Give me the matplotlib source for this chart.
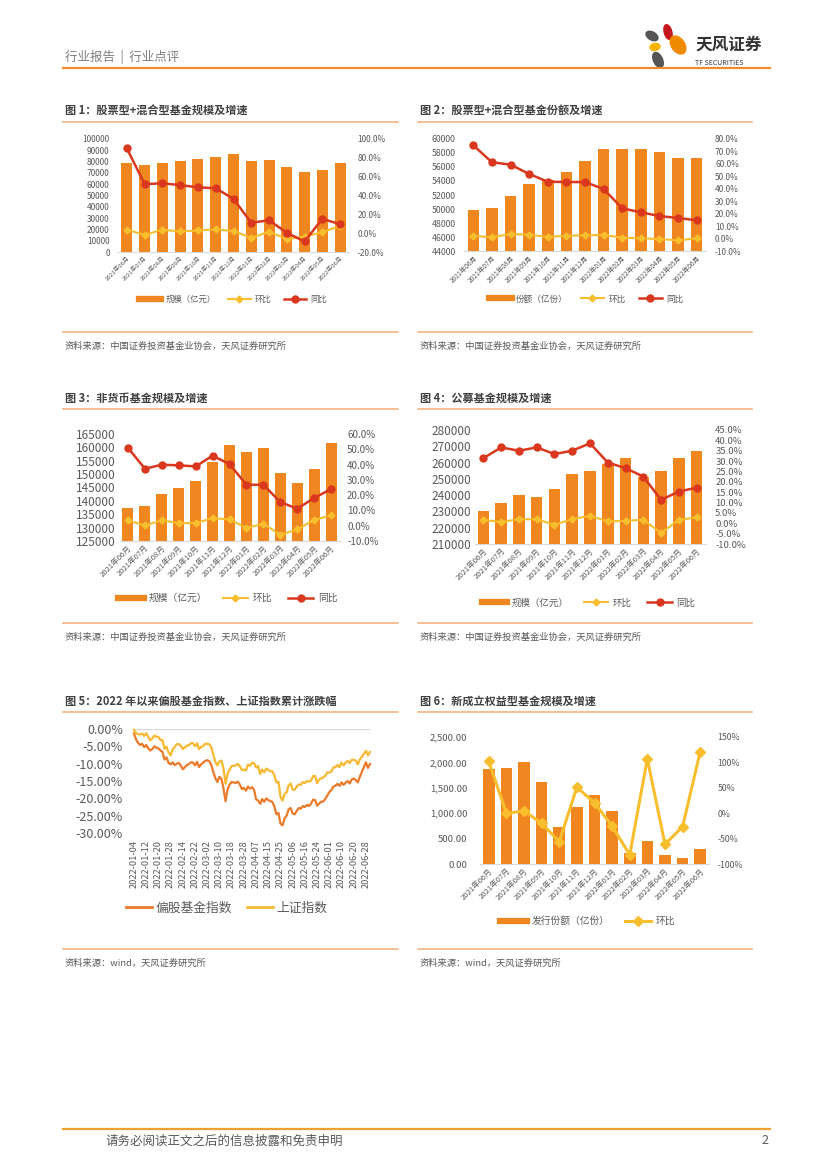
import numpy as np
import pandas as pd
import matplotlib
matplotlib.use('Agg')
from matplotlib import pyplot as plt
from matplotlib.lines import Line2D
from matplotlib.patches import Ellipse
from matplotlib.ticker import FuncFormatter

plt.rcParams['font.family'] = ['Noto Sans CJK SC', 'DejaVu Sans']

W, H = 827, 1169
BAR = '#F0861F'
MOM = '#F9BE2E'
YOY = '#D9381E'
GRAY = '#595959'
TITLE = '#404040'
LINE_ORANGE = '#F2AE78'

months = ['2021年06月', '2021年07月', '2021年08月', '2021年09月', '2021年10月', '2021年11月',
          '2021年12月', '2022年01月', '2022年02月', '2022年03月', '2022年04月', '2022年05月', '2022年06月']

# fig 1: stock + hybrid fund size (100m yuan), mom %, yoy %
size1 = [78800, 76800, 79100, 80300, 82000, 84400, 86500, 80900, 81500, 75300, 70900, 72900, 78800]
mom1 = [3.6, -1.7, 3.6, 1.8, 2.9, 4.0, 2.2, -4.9, 1.5, -6.3, -3.8, 1.1, 7.8]
yoy1 = [90.0, 52.0, 53.0, 51.0, 48.7, 47.7, 36.4, 11.0, 13.8, 0.4, -8.8, 15.2, 9.5]

# fig 2: stock + hybrid fund shares (100m)
share2 = [49860, 50100, 51860, 53570, 54100, 55330, 56810, 58520, 58520, 58520, 58190, 57290, 57240]
mom2 = [2.3, 1.0, 3.7, 3.1, 1.3, 2.3, 2.6, 2.9, 0.7, 0.2, -0.4, -1.4, 0.2]
yoy2 = [74.9, 61.3, 59.4, 51.9, 45.7, 45.4, 45.4, 39.8, 24.3, 21.1, 18.1, 16.5, 14.7]

# fig 3: non-money fund size
size3 = [137460, 138200, 142700, 144700, 147300, 154500, 160800, 158300, 159900, 150500, 146800, 152000, 161800]
mom3 = [3.5, 0.2, 3.5, 1.7, 1.7, 5.0, 4.1, -1.5, 1.3, -5.9, -2.4, 3.7, 6.8]
yoy3 = [51.0, 37.3, 39.9, 39.5, 38.8, 45.8, 40.3, 26.8, 26.8, 15.5, 11.1, 18.1, 24.0]

# fig 4: public fund size
size4 = [230000, 235100, 239800, 238600, 243700, 252900, 255100, 259000, 263100, 251000, 254900, 262500, 267300]
mom4 = [1.7, 0.6, 2.0, 1.9, -0.7, 2.0, 3.6, 0.9, 1.2, 1.7, -4.7, 1.7, 2.8]
yoy4 = [31.4, 36.6, 35.0, 36.6, 33.4, 35.0, 38.6, 29.3, 26.6, 22.5, 11.3, 15.3, 17.2]

# fig 6: newly issued equity fund shares
issue6 = [1872, 1885, 2003, 1623, 733, 1113, 1361, 1034, 209, 445, 170, 124, 288]
mom6 = [102, -0.5, 4.7, -20, -56, 51, 20.4, -25.4, -82, 107, -61, -26.7, 121]

# fig 5: cumulative change since 2022 (%)
holidays = ['2022-01-31', '2022-02-01', '2022-02-02', '2022-02-03', '2022-02-04',
            '2022-04-04', '2022-04-05', '2022-05-02', '2022-05-03', '2022-05-04', '2022-06-03']
dates = [d.strftime('%Y-%m-%d') for d in pd.bdate_range('2022-01-04', '2022-06-30')
         if d.strftime('%Y-%m-%d') not in holidays]
fund_idx = [-1.3, -3.0, -4.0, -4.6, -4.3, -5.2, -4.6, -5.6, -6.2, -5.8, -5.0, -5.4, -5.6, -6.2, -6.6, -8.8, -8.2, -9.8, -10.2,
            -9.6, -10.4, -10.0, -9.8, -10.6, -11.6, -11.0, -10.4, -10.1, -9.6, -9.7, -10.5, -9.5, -11.0, -10.2, -9.7,
            -9.2, -9.0, -9.3, -10.4, -12.4, -14.2, -15.3, -13.8, -14.4, -17.2, -20.8, -17.4, -16.0, -15.3, -15.4,
            -15.6, -15.2, -16.0, -17.3, -17.0, -17.8, -16.6, -17.2,
            -16.8, -17.5, -20.3, -20.6, -21.6, -20.2, -21.0, -20.0, -20.5, -20.8, -21.0, -22.4, -24.6, -24.2,
            -27.3, -27.8, -25.8, -25.0, -23.2,
            -22.8, -24.4, -24.6, -23.6, -22.8, -23.0, -22.2, -22.5, -21.9, -22.2, -21.6, -20.4, -20.5, -22.1,
            -21.5, -21.0, -20.9, -20.2, -19.2,
            -18.2, -17.6, -16.6, -16.4, -15.8, -16.4, -15.4, -16.1, -15.5, -15.0, -15.7, -14.6, -14.3, -14.7,
            -15.4, -13.8, -12.4, -11.0, -9.6, -11.2, -10.1]
sh_idx = [-0.2, -1.2, -1.5, -1.6, -1.3, -2.0, -1.2, -2.3, -3.3, -2.7, -1.9, -2.2, -2.3, -3.2, -3.2, -5.7, -5.1, -6.8, -7.6,
          -5.8, -5.2, -4.4, -4.3, -4.9, -5.8, -5.3, -4.8, -4.7, -4.1, -4.1, -5.0, -4.1, -5.8, -5.2, -4.9,
          -4.2, -4.3, -4.4, -5.3, -7.4, -9.5, -10.5, -9.4, -9.1, -11.5, -15.8, -12.9, -11.7, -10.7, -10.6,
          -10.5, -10.1, -10.7, -11.8, -11.7, -12.0, -10.3, -10.6,
          -9.8, -9.8, -11.1, -10.7, -13.0, -11.7, -12.5, -11.4, -11.8, -12.2, -12.2, -13.4, -15.4, -15.2,
          -19.5, -20.7, -18.7, -18.3, -16.3,
          -15.7, -17.5, -17.5, -16.6, -16.0, -16.1, -15.3, -15.6, -15.0, -15.2, -14.9, -13.6, -13.5, -15.6,
          -14.6, -14.2, -14.0, -13.5, -12.5,
          -12.6, -12.2, -11.1, -11.0, -10.4, -11.0, -9.7, -10.5, -9.7, -9.2, -9.8, -8.9, -8.9, -9.1,
          -10.2, -8.8, -8.0, -7.2, -6.3, -7.6, -6.6]

fig = plt.figure(figsize=(W / 100, H / 100), dpi=100)


def px_axes(l, t, r, b):
    return fig.add_axes([l / W, 1 - b / H, (r - l) / W, (b - t) / H])


def ftext(x, y, s, **kw):
    fig.text(x / W, 1 - y / H, s, **kw)


def hline(x0, x1, y, color, lw):
    fig.add_artist(Line2D([x0 / W, x1 / W], [1 - y / H, 1 - y / H], color=color, lw=lw))


def panel_frame(x0, x1, ty, title, sy, source):
    ftext(x0 + 2, ty, title, fontsize=8, fontweight='bold', color=TITLE, va='center')
    hline(x0, x1, ty + 11, LINE_ORANGE, 1.1)
    hline(x0, x1, sy - 14, LINE_ORANGE, 1.1)
    ftext(x0 + 2, sy, source, fontsize=6.7, color=GRAY, va='center')


def combo_chart(box, bars, mom, yoy, lim, step, lim2, step2, lfmt, rfmt,
                lfs, rfs, xfs, lpad, rpad, width, mom_style):
    l, t, r, b = box
    ax = px_axes(l, t, r, b)
    x = np.arange(len(months))
    ax.bar(x, bars, width=width, color=BAR, zorder=2)
    ax.set_xlim(-0.5, len(months) - 0.5)
    ax.set_ylim(lim)
    ax.set_yticks(np.arange(lim[0], lim[1] + step / 2, step))
    ax.yaxis.set_major_formatter(FuncFormatter(lambda v, p: lfmt.format(v)))
    ax.set_xticks(x)
    ax.set_xticklabels(months, rotation=45, ha='right', rotation_mode='anchor', fontsize=xfs, color=GRAY)
    ax.tick_params(axis='both', length=0, colors=GRAY)
    ax.tick_params(axis='y', labelsize=lfs, pad=lpad)
    ax.tick_params(axis='x', pad=2)
    for s in ['top', 'left', 'right']:
        ax.spines[s].set_visible(False)
    ax.spines['bottom'].set_color('#D9D9D9')
    ax2 = ax.twinx()
    ax2.set_ylim(lim2)
    ax2.set_yticks(np.arange(lim2[0], lim2[1] + step2 / 2, step2))
    ax2.yaxis.set_major_formatter(FuncFormatter(lambda v, p: rfmt.format(v)))
    ax2.tick_params(axis='y', length=0, colors=GRAY, labelsize=rfs, pad=rpad)
    ax2.plot(x, mom, color=MOM, **mom_style)
    if yoy is not None:
        ax2.plot(x, yoy, color=YOY, lw=1.8, marker='o', ms=5, zorder=4)
    for s in ax2.spines.values():
        s.set_visible(False)
    return ax


def combo_legend(ax, cx, cy, labels, fs, hl, cs, mom_style, with_yoy=True):
    handles = [Line2D([], [], color=BAR, lw=4.5),
               Line2D([], [], color=MOM, **mom_style)]
    if with_yoy:
        handles.append(Line2D([], [], color=YOY, lw=1.8, marker='o', ms=5))
    ax.legend(handles, labels, loc='center', bbox_to_anchor=(cx / W, 1 - cy / H),
              bbox_transform=fig.transFigure, ncol=len(handles), frameon=False, fontsize=fs,
              handlelength=hl, handletextpad=0.5, columnspacing=cs, labelcolor=GRAY)


small_mom = dict(lw=1.5, marker='D', ms=3.5, zorder=3)

# header
ftext(65, 57, '行业报告  |  行业点评', fontsize=9, color='#7F7F7F', va='center')
hline(63, 770, 68, '#F08A2A', 1.6)
logo = px_axes(638, 20, 688, 70)
logo.set_xlim(638, 688)
logo.set_ylim(70, 20)
logo.axis('off')
logo.add_patch(Ellipse((652, 36), 13, 8, angle=30, color='#555555'))
logo.add_patch(Ellipse((668, 32), 7.5, 15, angle=-15, color='#C4161C'))
logo.add_patch(Ellipse((678, 45), 13, 20, angle=-35, color='#F08A00'))
logo.add_patch(Ellipse((655, 47), 10, 7, angle=-10, color='#F7B500'))
logo.add_patch(Ellipse((658, 60), 9, 16, angle=-25, color='#555555'))
ftext(695, 45, '天风证券', fontsize=12, fontweight='bold', color='#333333', va='center')
ftext(695, 63, 'TF SECURITIES', fontsize=5, color='#333333', va='center')

# footer
hline(63, 770, 1129, '#F0A030', 1.6)
ftext(105, 1141, '请务必阅读正文之后的信息披露和免责申明', fontsize=9, color=GRAY, va='center')
ftext(768, 1141, '2', fontsize=9, color=GRAY, va='center', ha='right')

src_assoc = '资料来源：中国证券投资基金业协会，天风证券研究所'
src_wind = '资料来源：wind，天风证券研究所'

# chart 1
panel_frame(63, 398, 111, '图 1：股票型+混合型基金规模及增速', 346, src_assoc)
ax1 = combo_chart((118, 139, 349, 252), size1, mom1, yoy1, (0, 100000), 10000, (-20, 100), 20,
                  '{:.0f}', '{:.1f}%', 6, 6, 4.3, 6, 6, 0.62, small_mom)
combo_legend(ax1, 233, 299, ['规模（亿元）', '环比', '同比'], 6, 2.7, 1.5, small_mom)

# chart 2
panel_frame(418, 752, 111, '图 2：股票型+混合型基金份额及增速', 346, src_assoc)
ax2 = combo_chart((464, 139, 706, 251), share2, mom2, yoy2, (44000, 60000), 2000, (-10, 80), 10,
                  '{:.0f}', '{:.1f}%', 6.3, 6, 4.8, 6, 6.5, 0.62, small_mom)
combo_legend(ax2, 586, 299, ['份额（亿份）', '环比', '同比'], 6.2, 2.7, 1.5, small_mom)

# chart 3
panel_frame(63, 398, 398, '图 3：非货币基金规模及增速', 637, src_assoc)
ax3 = combo_chart((119.5, 434, 339.5, 541), size3, mom3, yoy3, (125000, 165000), 5000, (-10, 60), 10,
                  '{:.0f}', '{:.1f}%', 8.5, 7, 5.5, 2.5, 5.5, 0.65, small_mom)
combo_legend(ax3, 228, 598, ['规模（亿元）', '环比', '同比'], 7, 2.6, 1.6, small_mom)

# chart 4
panel_frame(418, 752, 398, '图 4：公募基金规模及增速', 637, src_assoc)
ax4 = combo_chart((474.5, 430, 705.5, 544), size4, mom4, yoy4, (210000, 280000), 10000, (-10, 45), 5,
                  '{:.0f}', '{:.1f}%', 8.5, 6.8, 5.5, 2.5, 7, 0.65, small_mom)
combo_legend(ax4, 589, 603, ['规模（亿元）', '环比', '同比'], 6.8, 2.6, 1.6, small_mom)

# chart 5
panel_frame(63, 398, 701, '图 5：2022 年以来偏股基金指数、上证指数累计涨跌幅', 963, src_wind)
ax5 = px_axes(134, 729, 370, 833)
xd = np.arange(len(dates))
ax5.plot(xd, fund_idx, color='#EB7A2A', lw=1.6, clip_on=False)
ax5.plot(xd, sh_idx, color='#F8B932', lw=1.6, clip_on=False)
ax5.axhline(0, color='#D9D9D9', lw=1, zorder=0)
ax5.set_xlim(0, len(dates) - 1)
ax5.set_ylim(-30, 0)
ax5.set_yticks(np.arange(-30, 0.1, 5))
ax5.yaxis.set_major_formatter(FuncFormatter(lambda v, p: '{:.2f}%'.format(v)))
ax5.set_xticks(xd[::6])
ax5.set_xticklabels(dates[::6], rotation=90, fontsize=6.7, color=GRAY)
ax5.tick_params(axis='both', length=0, colors=GRAY)
ax5.tick_params(axis='y', labelsize=9, pad=8)
ax5.tick_params(axis='x', pad=5)
for s in ax5.spines.values():
    s.set_visible(False)
ax5.legend([Line2D([], [], color='#EB7A2A', lw=2), Line2D([], [], color='#F8B932', lw=2)],
           ['偏股基金指数', '上证指数'], loc='center', bbox_to_anchor=(227 / W, 1 - 908 / H),
           bbox_transform=fig.transFigure, ncol=2, frameon=False, fontsize=9.2,
           handlelength=2.0, handletextpad=0.3, columnspacing=1.2, labelcolor=GRAY)

# chart 6
big_mom = dict(lw=2.2, marker='D', ms=5, zorder=3)
panel_frame(418, 752, 701, '图 6：新成立权益型基金规模及增速', 963, src_wind)
ax6 = combo_chart((480, 737, 709, 864), issue6, mom6, None, (0, 2500), 500, (-100, 150), 50,
                  '{:,.2f}', '{:.0f}%', 6.9, 6.3, 5.5, 9, 6, 0.66, big_mom)
combo_legend(ax6, 588, 921, ['发行份额（亿份）', '环比'], 7, 2.7, 1.6, big_mom, with_yoy=False)

fig.savefig('out.png', dpi=100, facecolor='white')
